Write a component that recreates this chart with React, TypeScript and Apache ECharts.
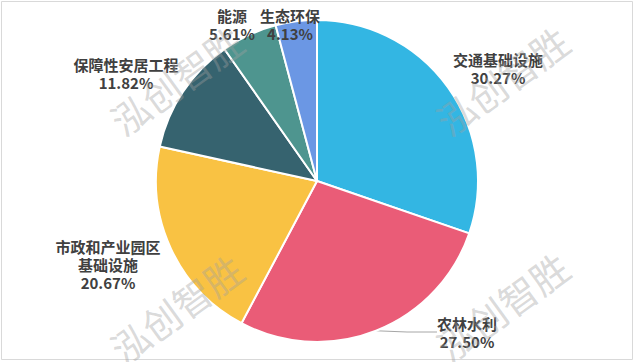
import React, { useEffect, useRef } from "react";
import * as echarts from "echarts";

const categories = ["交通基础设施", "农林水利", "市政和产业园区基础设施", "保障性安居工程", "能源", "生态环保"];
const shares = [30.27, 27.5, 20.67, 11.82, 5.61, 4.13];
const colors = ["#33B6E3", "#EA5C77", "#F9C243", "#36636F", "#4E958F", "#6B97E4"];
const watermarkText = "泓创智胜";

// label block centres (layout only)
const labelPos: [number, number][] = [
  [498, 68],
  [467, 332],
  [108, 264],
  [126, 73],
  [232, 24],
  [290, 24],
];
const watermarkPos: [number, number][] = [
  [176, 80],
  [502, 80],
  [176, 308],
  [502, 306],
];

export default function App() {
  const ref = useRef<HTMLDivElement>(null);
  useEffect(() => {
    if (!ref.current) return;
    const chart = echarts.init(ref.current, null, { renderer: "svg" });
    const font = "'Noto Sans CJK SC', 'Microsoft YaHei', sans-serif";
    chart.setOption({
      animation: false,
      backgroundColor: "#ffffff",
      textStyle: { fontFamily: font },
      graphic: [
        {
          type: "rect",
          shape: { x: 1.5, y: 1.5, width: 631, height: 358 },
          style: { fill: "none", stroke: "#d9d9d9", lineWidth: 1 },
          z: 0,
          silent: true,
        },
        ...watermarkPos.map(([x, y]) => ({
          type: "text",
          x,
          y,
          rotation: (36 * Math.PI) / 180,
          z: 100,
          silent: true,
          style: {
            text: watermarkText,
            fill: "rgba(160,160,160,0.4)",
            font: `normal 38px ${font}`,
            align: "center",
            verticalAlign: "middle",
          },
        })),
      ],
      series: [
        {
          type: "pie",
          center: [317, 181],
          radius: 161,
          startAngle: 90,
          clockwise: true,
          itemStyle: { borderColor: "#ffffff", borderWidth: 2 },
          label: {
            show: true,
            position: "outside",
            formatter: (p: any) => {
              const n: string = p.name.length > 7 ? p.name.slice(0, 7) + "\n" + p.name.slice(7) : p.name;
              return n + "\n" + Number(p.value).toFixed(2) + "%";
            },
            color: "#404040",
            fontSize: 15,
            fontWeight: "bold",
            lineHeight: 18,
            align: "center",
          },
          labelLine: { show: false, lineStyle: { color: "#a6a6a6", width: 1 } },
          labelLayout: (params: any) => {
            const [x, y] = labelPos[params.dataIndex];
            return { x, y, align: "center", verticalAlign: "middle" };
          },
          data: categories.map((name, i) => ({
            name,
            value: shares[i],
            itemStyle: { color: colors[i] },
            labelLine: { show: i === 1 },
          })),
        },
      ],
    });
    return () => chart.dispose();
  }, []);
  return <div ref={ref} style={{ position: "absolute", left: 0, top: 0, width: 635, height: 362 }} />;
}
